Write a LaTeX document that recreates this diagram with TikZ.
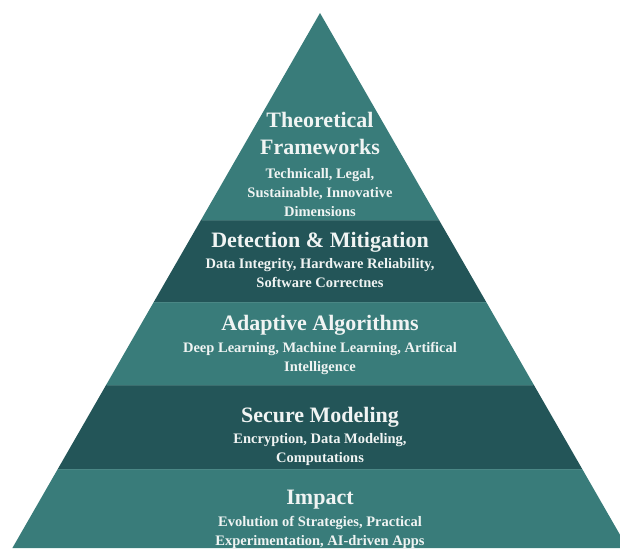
\documentclass[tikz,border=0pt]{standalone}
\usepackage{fontspec}
\setmainfont{Liberation Serif}
\definecolor{tealLight}{RGB}{57,124,122}
\definecolor{tealDark}{RGB}{35,85,88}
\definecolor{textWhite}{RGB}{240,244,243}
\begin{document}
\begin{tikzpicture}[x=1pt,y=-1pt,
  layerLight/.style={fill=tealLight},
  layerDark/.style={fill=tealDark},
  seam/.style={draw=tealLight!75!white, line width=0.7pt},
  title/.style={text=textWhite, font=\bfseries\fontsize{22}{27}\selectfont, align=center, inner sep=0pt},
  detail/.style={text=textWhite, font=\bfseries\fontsize{14.5}{19}\selectfont, align=center, inner sep=0pt}]
  \useasboundingbox (0,0) rectangle (620,548);
  \clip (0,0) rectangle (620,548);

  % pyramid layers, top to bottom
  \fill[layerLight] (320,13) -- (439,220) -- (201,220) -- cycle;
  \fill[layerDark]  (201,220) -- (439,220) -- (486.2,302) -- (153.8,302) -- cycle;
  \fill[layerLight] (153.8,302) -- (486.2,302) -- (533.9,385) -- (106.1,385) -- cycle;
  \fill[layerDark]  (106.1,385) -- (533.9,385) -- (582.2,469) -- (57.8,469) -- cycle;
  \fill[layerLight] (57.8,469) -- (582.2,469) -- (627.6,548) -- (12.4,548) -- cycle;

  % thin seams between layers
  \draw[seam, draw opacity=0.35] (201.5,220) -- (438.5,220);
  \draw[seam, draw opacity=0.35] (154.3,302) -- (485.7,302);
  \draw[seam, draw opacity=0.35] (106.6,385) -- (533.4,385);
  \draw[seam, draw opacity=0.35] (58.3,469) -- (581.7,469);

  % layer texts
  \node[title]  (t1) at (320,133.5) {Theoretical\\Frameworks};
  \node[detail] (d1) at (320,192.5) {Technicall, Legal,\\Sustainable, Innovative\\Dimensions};

  \node[title]  (t2) at (320,242) {Detection \& Mitigation};
  \node[detail] (d2) at (320,273.5) {Data Integrity, Hardware Reliability,\\Software Correctnes};

  \node[title]  (t3) at (320,325) {Adaptive Algorithms};
  \node[detail] (d3) at (320,358.5) {Deep Learning, Machine Learning, Artifical\\Intelligence};

  \node[title]  (t4) at (320,417) {Secure Modeling};
  \node[detail] (d4) at (320,450) {Encryption, Data Modeling,\\Computations};

  \node[title]  (t5) at (320,500) {Impact};
  \node[detail] (d5) at (320,532.5) {Evolution of Strategies, Practical\\Experimentation, AI-driven Apps};
\end{tikzpicture}
\end{document}
